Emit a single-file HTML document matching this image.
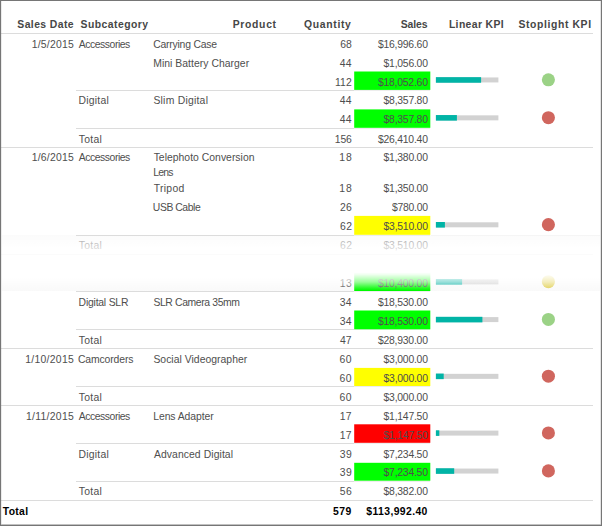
<!DOCTYPE html>
<html lang="en"><head><meta charset="utf-8"><title>Sales KPI Report</title>
<style>
html,body{margin:0;padding:0;background:#fff;}
body{width:602px;height:526px;position:relative;overflow:hidden;font-family:"Liberation Sans",sans-serif;font-size:10.4px;color:#4e4e4e;}
.t{position:absolute;white-space:nowrap;line-height:14px;height:14px;}
.b{font-weight:bold;}
.ln{position:absolute;height:1px;background:#DCDCDC;}
.bg{position:absolute;}
.fr{position:absolute;background:#767676;}
.gfx{position:absolute;left:0;top:0;}
.fade{position:absolute;left:2px;width:598px;}
</style></head><body>
<div class="ln" style="left:1px;width:592px;top:33px;"></div>
<div class="ln" style="left:76px;width:278px;top:90px;"></div>
<div class="ln" style="left:354px;width:76.4px;top:90px;background:#ededed;"></div>
<div class="ln" style="left:76px;width:278px;top:128px;"></div>
<div class="ln" style="left:354px;width:76.4px;top:128px;background:#ededed;"></div>
<div class="ln" style="left:1px;width:592px;top:147px;"></div>
<div class="ln" style="left:76px;width:278px;top:235px;"></div>
<div class="ln" style="left:354px;width:76.4px;top:235px;background:#ededed;"></div>
<div class="ln" style="left:76px;width:278px;top:291px;"></div>
<div class="ln" style="left:354px;width:76.4px;top:291px;background:#ededed;"></div>
<div class="ln" style="left:76px;width:278px;top:329px;"></div>
<div class="ln" style="left:354px;width:76.4px;top:329px;background:#ededed;"></div>
<div class="ln" style="left:1px;width:592px;top:348px;"></div>
<div class="ln" style="left:76px;width:278px;top:386px;"></div>
<div class="ln" style="left:354px;width:76.4px;top:386px;background:#ededed;"></div>
<div class="ln" style="left:1px;width:592px;top:405px;"></div>
<div class="ln" style="left:76px;width:278px;top:443px;"></div>
<div class="ln" style="left:354px;width:76.4px;top:443px;background:#ededed;"></div>
<div class="ln" style="left:76px;width:278px;top:481px;"></div>
<div class="ln" style="left:354px;width:76.4px;top:481px;background:#ededed;"></div>
<div class="ln" style="left:1px;width:592px;top:500px;"></div>
<svg class="gfx" width="602" height="526" viewBox="0 0 602 526"><rect x="354.2" y="71.5" width="76.1" height="18.4" fill="#00FF00"/><rect x="435.9" y="77.45" width="62.5" height="5" fill="#D2D2D2"/><rect x="435.9" y="77.15" width="45.2" height="5.6" fill="#01B4A6"/><circle cx="548.4" cy="79.8" r="6.55" fill="#9BD286"/><rect x="354.2" y="109.4" width="76.1" height="18.4" fill="#00FF00"/><rect x="435.9" y="115.35" width="62.5" height="5" fill="#D2D2D2"/><rect x="435.9" y="115.05" width="21.0" height="5.6" fill="#01B4A6"/><circle cx="548.4" cy="117.7" r="6.55" fill="#D0665E"/><rect x="354.2" y="215.9" width="76.1" height="18.9" fill="#FFFF00"/><rect x="435.9" y="222.3" width="62.5" height="5" fill="#D2D2D2"/><rect x="435.9" y="222.0" width="9.0" height="5.6" fill="#01B4A6"/><circle cx="548.4" cy="224.65" r="6.55" fill="#D0665E"/><rect x="354.2" y="272.9" width="76.1" height="18.1" fill="#00FF00"/><rect x="435.9" y="279.35" width="62.5" height="5" fill="#D2D2D2"/><rect x="435.9" y="279.05" width="26.2" height="5.6" fill="#01B4A6"/><circle cx="548.4" cy="281.7" r="6.55" fill="#E6D556"/><rect x="354.2" y="310.5" width="76.1" height="18.8" fill="#00FF00"/><rect x="435.9" y="317.1" width="62.5" height="5" fill="#D2D2D2"/><rect x="435.9" y="316.8" width="46.5" height="5.6" fill="#01B4A6"/><circle cx="548.4" cy="319.45" r="6.55" fill="#9BD286"/><rect x="354.2" y="367.9" width="76.1" height="18.1" fill="#FFFF00"/><rect x="435.9" y="373.85" width="62.5" height="5" fill="#D2D2D2"/><rect x="435.9" y="373.55" width="7.8" height="5.6" fill="#01B4A6"/><circle cx="548.4" cy="376.2" r="6.55" fill="#D0665E"/><rect x="354.2" y="424.3" width="76.1" height="18.5" fill="#FF0000"/><rect x="435.9" y="430.6" width="62.5" height="5" fill="#D2D2D2"/><rect x="435.9" y="430.3" width="3.4" height="5.6" fill="#01B4A6"/><circle cx="548.4" cy="432.95" r="6.55" fill="#D0665E"/><rect x="354.2" y="462.8" width="76.1" height="17.9" fill="#00FF00"/><rect x="435.9" y="468.55" width="62.5" height="5" fill="#D2D2D2"/><rect x="435.9" y="468.25" width="18.3" height="5.6" fill="#01B4A6"/><circle cx="548.4" cy="470.9" r="6.55" fill="#D0665E"/></svg>
<div class="t b" style="top:18.0px;right:527.96px;letter-spacing:0.416px;color:#464646;">Sales Date</div>
<div class="t b" style="top:18.0px;right:453.41px;letter-spacing:0.458px;color:#464646;">Subcategory</div>
<div class="t b" style="top:18.0px;right:325.24px;letter-spacing:0.694px;color:#464646;">Product</div>
<div class="t b" style="top:18.0px;right:250.53px;letter-spacing:0.653px;color:#464646;">Quantity</div>
<div class="t b" style="top:18.0px;right:174.46px;letter-spacing:-0.056px;color:#464646;">Sales</div>
<div class="t b" style="top:18.0px;right:98.01px;letter-spacing:0.37px;color:#464646;">Linear KPI</div>
<div class="t b" style="top:18.0px;right:10.36px;letter-spacing:0.617px;color:#464646;">Stoplight KPI</div>
<div class="t" style="top:38.0px;right:528.02px;letter-spacing:0.231px;">1/5/2015</div>
<div class="t" style="top:38.0px;left:78.81px;letter-spacing:-0.449px;">Accessories</div>
<div class="t" style="top:38.0px;left:153.15px;letter-spacing:-0.205px;">Carrying Case</div>
<div class="t" style="top:38.0px;right:250.25px;letter-spacing:0.002px;">68</div>
<div class="t" style="top:38.0px;right:174.3px;letter-spacing:-0.223px;">$16,996.60</div>
<div class="t" style="top:57.0px;left:153.23px;letter-spacing:0.033px;">Mini Battery Charger</div>
<div class="t" style="top:57.0px;right:250.44px;letter-spacing:0.098px;">44</div>
<div class="t" style="top:57.0px;right:174.3px;letter-spacing:-0.235px;">$1,056.00</div>
<div class="t" style="top:76.0px;right:250.05px;letter-spacing:0.138px;">112</div>
<div class="t" style="top:76.0px;right:174.3px;letter-spacing:-0.223px;">$18,052.60</div>
<div class="t" style="top:94.0px;left:78.62px;letter-spacing:0.208px;">Digital</div>
<div class="t" style="top:94.0px;left:153.38px;letter-spacing:0.237px;">Slim Digital</div>
<div class="t" style="top:94.0px;right:250.44px;letter-spacing:0.098px;">44</div>
<div class="t" style="top:94.0px;right:174.3px;letter-spacing:-0.235px;">$8,357.80</div>
<div class="t" style="top:113.0px;right:250.44px;letter-spacing:0.098px;">44</div>
<div class="t" style="top:113.0px;right:174.3px;letter-spacing:-0.235px;">$8,357.80</div>
<div class="t" style="top:133.0px;left:78.71px;letter-spacing:0.284px;">Total</div>
<div class="t" style="top:133.0px;right:250.48px;letter-spacing:-0.221px;">156</div>
<div class="t" style="top:133.0px;right:174.3px;letter-spacing:-0.223px;">$26,410.40</div>
<div class="t" style="top:151.0px;right:528.02px;letter-spacing:0.231px;">1/6/2015</div>
<div class="t" style="top:151.0px;left:78.81px;letter-spacing:-0.449px;">Accessories</div>
<div class="t" style="top:151.0px;left:153.63px;letter-spacing:0.019px;">Telephoto Conversion</div>
<div class="t" style="top:165.5px;left:153.22px;letter-spacing:-0.76px;">Lens</div>
<div class="t" style="top:151.0px;right:249.42px;letter-spacing:0.831px;">18</div>
<div class="t" style="top:151.0px;right:174.3px;letter-spacing:-0.235px;">$1,380.00</div>
<div class="t" style="top:182.0px;left:153.63px;letter-spacing:0.334px;">Tripod</div>
<div class="t" style="top:182.0px;right:249.42px;letter-spacing:0.831px;">18</div>
<div class="t" style="top:182.0px;right:174.3px;letter-spacing:-0.235px;">$1,350.00</div>
<div class="t" style="top:201.0px;left:152.85px;letter-spacing:-0.445px;">USB Cable</div>
<div class="t" style="top:201.0px;right:250.01px;letter-spacing:0.242px;">26</div>
<div class="t" style="top:201.0px;right:174.34px;letter-spacing:-0.264px;">$780.00</div>
<div class="t" style="top:220.0px;right:249.5px;letter-spacing:0.529px;">62</div>
<div class="t" style="top:220.0px;right:174.3px;letter-spacing:-0.235px;">$3,510.00</div>
<div class="t" style="top:239.0px;left:78.71px;letter-spacing:0.284px;">Total</div>
<div class="t" style="top:239.0px;right:249.5px;letter-spacing:0.529px;">62</div>
<div class="t" style="top:239.0px;right:174.3px;letter-spacing:-0.235px;">$3,510.00</div>
<div class="t" style="top:277.0px;right:249.97px;letter-spacing:0.36px;">13</div>
<div class="t" style="top:277.0px;right:174.3px;letter-spacing:-0.223px;">$10,400.00</div>
<div class="t" style="top:296.0px;left:78.62px;letter-spacing:-0.218px;">Digital SLR</div>
<div class="t" style="top:296.0px;left:153.38px;letter-spacing:-0.369px;">SLR Camera 35mm</div>
<div class="t" style="top:296.0px;right:250.38px;letter-spacing:0.165px;">34</div>
<div class="t" style="top:296.0px;right:174.3px;letter-spacing:-0.223px;">$18,530.00</div>
<div class="t" style="top:315.0px;right:250.38px;letter-spacing:0.165px;">34</div>
<div class="t" style="top:315.0px;right:174.3px;letter-spacing:-0.223px;">$18,530.00</div>
<div class="t" style="top:334.0px;left:78.71px;letter-spacing:0.284px;">Total</div>
<div class="t" style="top:334.0px;right:250.36px;letter-spacing:-0.002px;">47</div>
<div class="t" style="top:334.0px;right:174.3px;letter-spacing:-0.223px;">$28,930.00</div>
<div class="t" style="top:353.0px;right:527.97px;letter-spacing:0.281px;">1/10/2015</div>
<div class="t" style="top:353.0px;left:77.93px;letter-spacing:-0.121px;">Camcorders</div>
<div class="t" style="top:353.0px;left:153.38px;letter-spacing:0.027px;">Social Videographer</div>
<div class="t" style="top:353.0px;right:249.86px;letter-spacing:0.578px;">60</div>
<div class="t" style="top:353.0px;right:174.3px;letter-spacing:-0.235px;">$3,000.00</div>
<div class="t" style="top:372.0px;right:249.86px;letter-spacing:0.578px;">60</div>
<div class="t" style="top:372.0px;right:174.3px;letter-spacing:-0.235px;">$3,000.00</div>
<div class="t" style="top:391.0px;left:78.71px;letter-spacing:0.284px;">Total</div>
<div class="t" style="top:391.0px;right:249.86px;letter-spacing:0.578px;">60</div>
<div class="t" style="top:391.0px;right:174.3px;letter-spacing:-0.235px;">$3,000.00</div>
<div class="t" style="top:410.0px;right:527.95px;letter-spacing:0.296px;">1/11/2015</div>
<div class="t" style="top:410.0px;left:78.81px;letter-spacing:-0.449px;">Accessories</div>
<div class="t" style="top:410.0px;left:153.22px;letter-spacing:-0.069px;">Lens Adapter</div>
<div class="t" style="top:410.0px;right:250.07px;letter-spacing:0.285px;">17</div>
<div class="t" style="top:410.0px;right:174.3px;letter-spacing:-0.235px;">$1,147.50</div>
<div class="t" style="top:429.0px;right:250.07px;letter-spacing:0.285px;">17</div>
<div class="t" style="top:429.0px;right:174.3px;letter-spacing:-0.235px;">$1,147.50</div>
<div class="t" style="top:448.0px;left:78.62px;letter-spacing:0.208px;">Digital</div>
<div class="t" style="top:448.0px;left:153.91px;letter-spacing:0.076px;">Advanced Digital</div>
<div class="t" style="top:448.0px;right:249.73px;letter-spacing:0.5px;">39</div>
<div class="t" style="top:448.0px;right:174.3px;letter-spacing:-0.235px;">$7,234.50</div>
<div class="t" style="top:466.0px;right:249.73px;letter-spacing:0.5px;">39</div>
<div class="t" style="top:466.0px;right:174.3px;letter-spacing:-0.235px;">$7,234.50</div>
<div class="t" style="top:485.0px;left:78.71px;letter-spacing:0.284px;">Total</div>
<div class="t" style="top:485.0px;right:249.71px;letter-spacing:0.546px;">56</div>
<div class="t" style="top:485.0px;right:174.3px;letter-spacing:-0.235px;">$8,382.00</div>
<div class="t b" style="top:505.0px;left:2.83px;letter-spacing:0.303px;color:#000;">Total</div>
<div class="t b" style="top:505.0px;right:250.39px;letter-spacing:0.395px;color:#000;">579</div>
<div class="t b" style="top:505.0px;right:174.24px;letter-spacing:0.381px;color:#000;">$113,992.40</div>
<div class="fade" style="top:236px;height:22px;background:linear-gradient(to bottom,rgba(255,255,255,0.50),rgba(255,255,255,1));"></div>
<div class="fade" style="top:258px;height:12px;background:#fff;"></div>
<div class="fade" style="top:270px;height:21px;background:linear-gradient(to bottom,rgba(255,255,255,1) 0,rgba(255,255,255,0.96) 4px,rgba(255,255,255,0.61) 12px,rgba(255,255,255,0.16) 18px,rgba(255,255,255,0) 20.5px);"></div>
<div class="fade" style="top:235px;height:14px;background:linear-gradient(to bottom,rgba(0,0,0,0.014),rgba(0,0,0,0));"></div>
<div class="fade" style="top:277px;height:14px;background:linear-gradient(to bottom,rgba(0,0,0,0),rgba(0,0,0,0.024));"></div>
<div class="ln" style="left:76px;width:278px;top:235px;"></div>
<div class="ln" style="left:354px;width:76.4px;top:235px;background:#ededed;"></div>
<div class="ln" style="left:431px;width:169px;top:235px;background:#f5f5f5;"></div>
<div class="ln" style="left:1px;width:592px;top:254px;background:#fbfbfb;"></div>
<div class="ln" style="left:76px;width:278px;top:291px;"></div>
<div class="ln" style="left:354px;width:76.4px;top:291px;background:#ededed;"></div>
<div class="fr" style="left:0;top:0;width:602px;height:1px;"></div>
<div class="fr" style="left:0;top:0;width:1px;height:526px;"></div>
<div class="fr" style="left:601px;top:0;width:1px;height:526px;"></div>
<div class="fr" style="left:0;top:525px;width:602px;height:1px;"></div>
<div class="fr" style="left:1px;top:524px;width:600px;height:1px;opacity:.45;"></div>
<div class="fr" style="left:1px;top:1px;width:1px;height:523px;opacity:.15;"></div>
<div class="fr" style="left:600px;top:1px;width:1px;height:523px;opacity:.2;"></div>
</body></html>
